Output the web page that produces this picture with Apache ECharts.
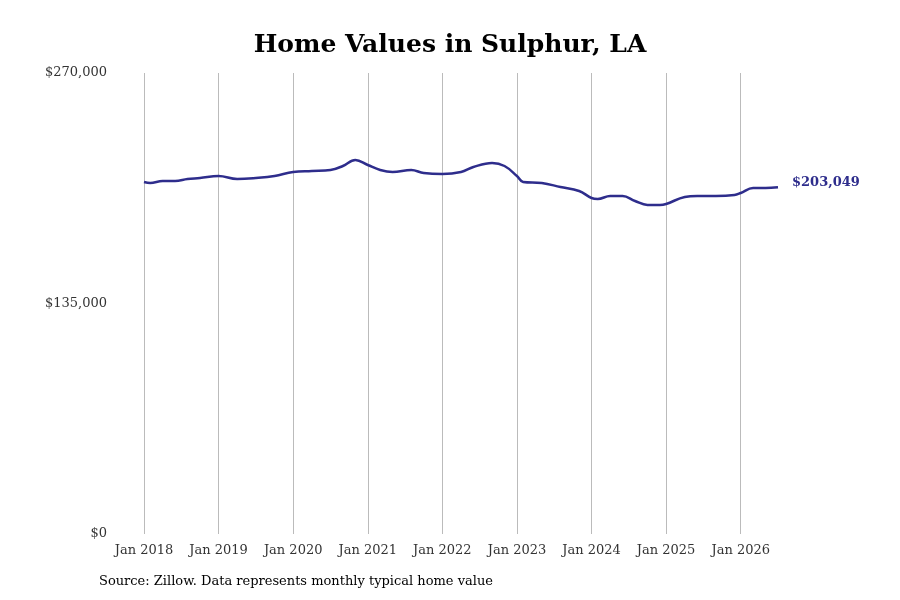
<!DOCTYPE html>
<html>
<head>
<meta charset="utf-8">
<script src="https://cdn.jsdelivr.net/npm/echarts@6/dist/echarts.min.js"></script>
<style>html,body{margin:0;background:#fff}#chart{width:900px;height:600px}</style>
</head>
<body>
<div id="chart"></div>
<script>
const months = ['2018-01','2018-02','2018-04','2018-06','2018-08','2018-10','2019-01','2019-04','2019-07','2019-10',
  '2020-01','2020-04','2020-07','2020-09','2020-11','2021-01','2021-03','2021-05','2021-08','2021-10',
  '2022-01','2022-04','2022-06','2022-09','2022-11','2023-01','2023-02','2023-05','2023-08','2023-11',
  '2024-01','2024-02','2024-04','2024-06','2024-08','2024-10','2024-12','2025-01','2025-04','2025-06',
  '2025-09','2025-12','2026-01','2026-03','2026-05','2026-07'];
const values = [206166,205581,206752,206752,207924,208509,209681,207924,208509,209681,
  212023,212609,213195,215538,219052,216123,213195,212023,213195,211438,
  210852,212023,214952,217295,215538,209681,206166,205581,203238,200895,
  196795,196210,197967,197967,195038,192695,192695,193281,197381,197967,
  197967,198552,199724,202652,202652,203049];
const yTicks = [0, 135000, 270000];
const startYear = 2018;

const monthIndex = m => (parseInt(m.slice(0,4)) - startYear) * 12 + parseInt(m.slice(5,7)) - 1;
const data = months.map((m, i) => [monthIndex(m), values[i]]);
const fmt = v => '$' + v.toLocaleString('en-US');

const chart = echarts.init(document.getElementById('chart'));
chart.setOption({
  textStyle: { fontFamily: 'DejaVu Serif' },
  title: {
    text: 'Home Values in Sulphur, LA', left: 'center', top: 28,
    textStyle: { fontFamily: 'DejaVu Serif', fontSize: 25, fontWeight: 'bold', color: '#000' }
  },
  graphic: [{
    type: 'text', left: 99, top: 575,
    style: { text: 'Source: Zillow. Data represents monthly typical home value', font: '13px DejaVu Serif', fill: '#000' }
  }],
  grid: { left: 144, right: 122, top: 73, bottom: 66 },
  xAxis: {
    type: 'value', min: 0, max: monthIndex(months[months.length - 1]), interval: 12,
    axisLine: { show: false }, axisTick: { show: false },
    splitLine: { show: true, showMaxLine: false, showMinLine: true, lineStyle: { color: '#bbb' } },
    axisLabel: { fontSize: 13, color: '#333', margin: 10, showMaxLabel: false,
      formatter: v => v % 12 === 0 ? 'Jan ' + (startYear + v / 12) : '' }
  },
  yAxis: {
    type: 'value', min: yTicks[0], max: yTicks[2], interval: yTicks[1],
    axisLine: { show: false }, axisTick: { show: false }, splitLine: { show: false },
    axisLabel: { fontSize: 13, color: '#333', margin: 37, verticalAlign: 'middle', formatter: fmt }
  },
  series: [{
    type: 'line', data: data, smooth: 0.4, showSymbol: false,
    lineStyle: { color: '#2e2d8c', width: 2.5 },
    endLabel: { show: true, formatter: p => fmt(p.value[1]), color: '#2e2d8c', fontWeight: 'bold', fontSize: 13, distance: 14, offset: [0, -5] }
  }]
});
</script>
</body>
</html>
